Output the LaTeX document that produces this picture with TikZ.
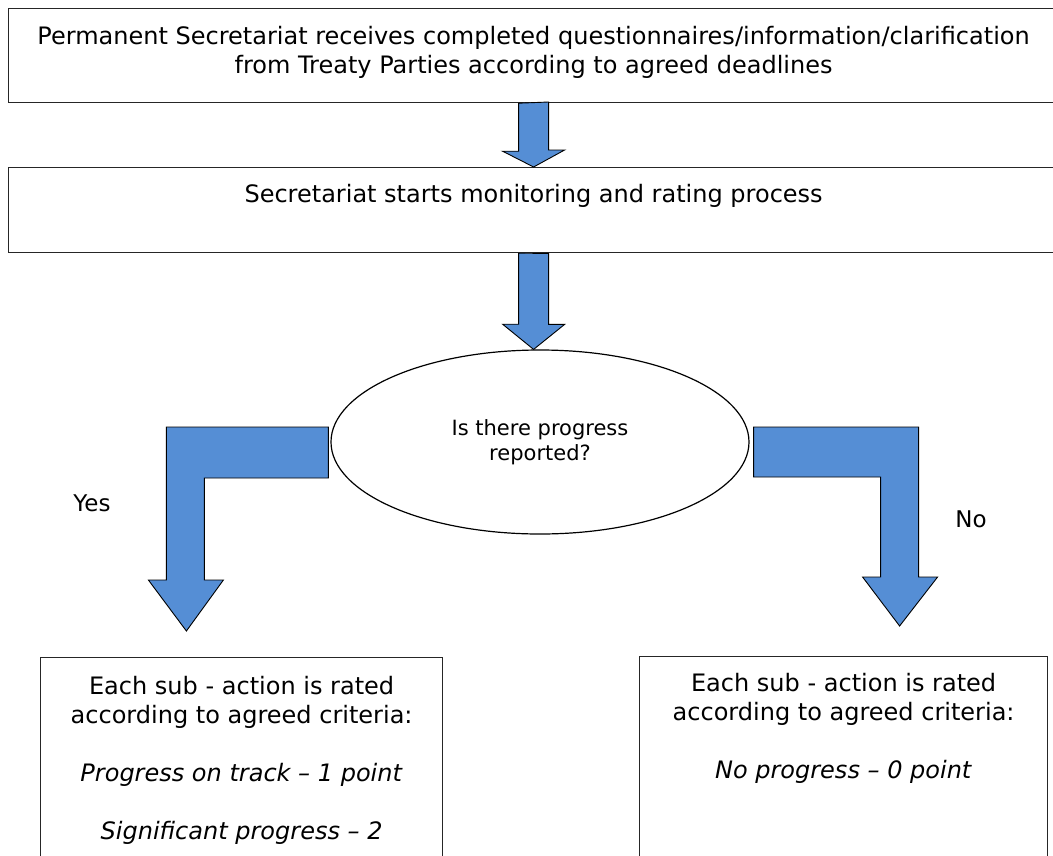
\documentclass[tikz,border=0pt]{standalone}
\usepackage{fontspec}
\setmainfont{DejaVu Sans}
\usetikzlibrary{shapes.geometric,positioning,calc}
\definecolor{arrowblue}{RGB}{85,142,213}

\begin{document}
\begin{tikzpicture}[x=1pt,y=-1pt,
	box/.style={draw=black!85, line width=1.2pt, anchor=north west},
	boxtext/.style={align=center, font=\fontsize{24}{29}\selectfont},
	blockarrow/.style={draw=black, line width=0.9pt, fill=arrowblue, line join=miter}]
	\tikzstyle{every node}+=[inner sep=0pt]
	\useasboundingbox (0,0) rectangle (1053,855);
	\node [box, minimum width=1050pt, minimum height=94pt] (receive) at (8,8) {};
	\node [boxtext, below=18pt of receive.north] (receivetext) {Permanent Secretariat receives completed questionnaires/information/clarification\\from Treaty Parties according to agreed deadlines};
	\node [box, minimum width=1050pt, minimum height=85pt] (monitor) at (8,167) {};
	\node [boxtext, below=17pt of monitor.north] (monitortext) {Secretariat starts monitoring and rating process};
	\node [ellipse, draw=black, line width=1.2pt, minimum width=418pt, minimum height=184pt, align=center, font=\fontsize{21}{25}\selectfont] (decision) at (540,442) {Is there progress\\reported?};
	\node [box, minimum width=402pt, minimum height=230pt] (yesbox) at (40,657) {};
	\node [boxtext, below=19pt of yesbox.north] (yestext) {Each sub - action is rated\\according to agreed criteria:\\[29pt]\textit{Progress on track – 1 point}\\[29pt]\textit{Significant progress – 2}};
	\node [box, minimum width=408pt, minimum height=230pt] (nobox) at (639,656) {};
	\node [boxtext, below=17pt of nobox.north] (notext) {Each sub - action is rated\\according to agreed criteria:\\[29pt]\textit{No progress – 0 point}};
	\node [font=\fontsize{23}{28}\selectfont] (yes) at (92,503) {Yes};
	\node [font=\fontsize{23}{28}\selectfont] (no) at (971,519) {No};
	\draw [blockarrow] ($(receive.south)+(-15,0)$) -- ++(0,48) -- ++(-16,0) -- (monitor.north) -- ++(31,-17) -- ++(-16,0) -- ++(0,-48) -- cycle;
	\draw [blockarrow] ($(monitor.south)+(-15,0)$) -- ++(0,71) -- ++(-16,0) -- (monitor.south |- decision.north) -- ++(31,-25) -- ++(-16,0) -- ++(0,-71) -- cycle;
	\draw [blockarrow] ($(decision.west)+(-2,-15)$) -- ++(-162,0) -- ++(0,153) -- ++(-18,0) -- ++(38,51) -- ++(37,-51) -- ++(-19,0) -- ++(0,-102) -- ++(124,0) -- cycle;
	\draw [blockarrow] ($(decision.east)+(4,-15)$) -- ++(165,0) -- ++(0,150) -- ++(19,0) -- ++(-38,49) -- ++(-37,-49) -- ++(18,0) -- ++(0,-100) -- ++(-127,0) -- cycle;
\end{tikzpicture}
\end{document}
